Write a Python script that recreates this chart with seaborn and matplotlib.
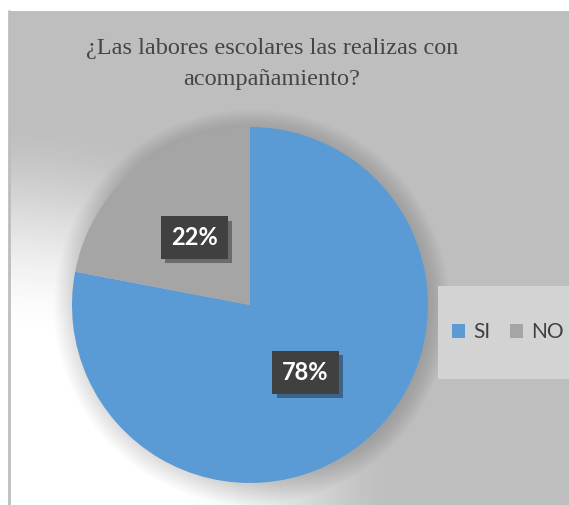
import numpy as np
import pandas as pd
import seaborn as sns
import matplotlib.pyplot as plt
from matplotlib.patches import Circle, Rectangle
from matplotlib import patheffects as pe

labels = ['SI', 'NO']
values = [78, 22]
colors = ['#5B9BD5', '#A5A5A5']
title = '¿Las labores escolares las realizas con\nacompañamiento?'

df = pd.DataFrame({'respuesta': labels, 'pct': values})

sns.set_theme(style='white')
plt.rcParams['font.family'] = ['Lato', 'DejaVu Sans']

W, H = 569, 505
fig = plt.figure(figsize=(W / 100, H / 100), dpi=100)
fig.patch.set_facecolor('white')

# chart area: flat gray with a white glow in the lower-left corner
bg = fig.add_axes([9 / W, 0, (W - 9) / W, (H - 11) / H])
bh, bw = H - 11, W - 9
yy, xx = np.mgrid[0:bh, 0:bw]
d = np.hypot(xx, bh - yy)
glow = np.clip((380 - d) / 220, 0, 1)
glow = np.sin(glow * np.pi / 2) ** 1.5
shade = 0.745 + (1 - 0.745) * glow
bg.imshow(shade, cmap='gray', vmin=0, vmax=1, aspect='auto',
          extent=[0, 1, 0, 1], origin='upper', interpolation='bilinear')
bg.axvline(0, color='#bdbdbd', lw=2, clip_on=False)
bg.set_axis_off()

# pie
ax = fig.add_axes([72 / W, 22 / H, 356 / W, 356 / H])
for i in range(12):
    ax.add_patch(Circle((0.01, -0.012), 1 + 0.01 * i, color='black',
                        alpha=0.012, lw=0, clip_on=False, zorder=0))
wedges, _, autotexts = ax.pie(
    df['pct'], colors=colors, startangle=90, counterclock=False,
    autopct='%1.0f%%', pctdistance=0.49,
    wedgeprops=dict(linewidth=0),
    textprops=dict(color='white', fontsize=17, fontweight='bold'))
ax.set_xlim(-1, 1)
ax.set_ylim(-1, 1)
ax.set_aspect('equal')

for t in autotexts:
    t.set_bbox(dict(boxstyle='square,pad=0.42', fc='#404040', ec='none'))
    t.get_bbox_patch().set_path_effects(
        [pe.SimplePatchShadow(offset=(3, -3), shadow_rgbFace='black', alpha=0.35),
         pe.Normal()])

# legend box
fig.add_artist(Rectangle((438 / W, (H - 379) / H), (W - 438) / W, 93 / H,
                         transform=fig.transFigure, fc='#d3d3d3', ec='none',
                         zorder=1))
fig.legend(wedges, labels, loc='center', bbox_to_anchor=(508 / W, 1 - 332 / H),
           ncol=2, frameon=False, fontsize=15, handlelength=0.65,
           handleheight=0.65, handletextpad=0.4, columnspacing=0.9,
           labelcolor='#404040')

fig.text(272 / W, 1 - 64 / H, title, ha='center', va='center', fontsize=17.5,
         family=['Liberation Serif', 'DejaVu Serif'], color='#454545',
         linespacing=1.6)

fig.savefig('out.png', dpi=100, facecolor='white')
